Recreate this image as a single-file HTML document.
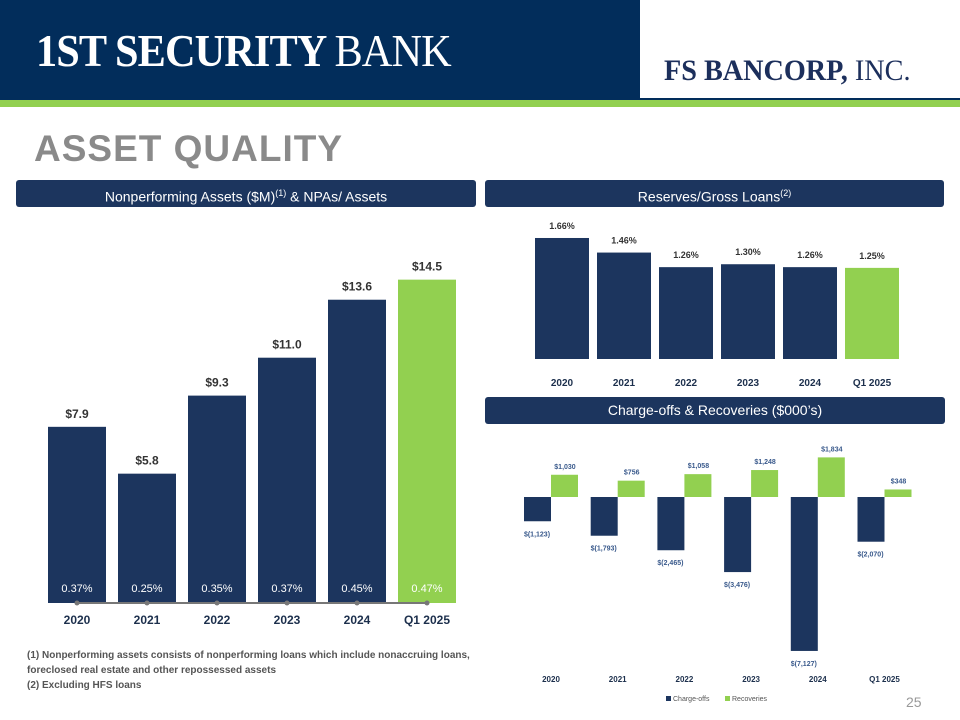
<!DOCTYPE html>
<html><head><meta charset="utf-8"><style>
body{margin:0;width:960px;height:720px;background:#fff;position:relative;overflow:hidden;font-family:"Liberation Sans",sans-serif}
.abs{position:absolute}
.hdr{position:absolute;background:#1c355e;color:#fff;border-radius:3px;font-size:14px;text-align:center;line-height:27px;height:27px}
</style></head><body>
<div class="abs" style="left:0;top:0;width:960px;height:100px;background:#022d5b"></div>
<div class="abs" style="left:36px;top:24px;color:#fff;font-family:'Liberation Serif',serif;font-size:46px;font-weight:bold;letter-spacing:-1px;transform:scaleX(0.92);transform-origin:left">1ST SECURITY <span style="font-weight:normal">BANK</span></div>
<div class="abs" style="left:640px;top:0;width:320px;height:98px;background:#fff"></div>
<div class="abs" style="left:664px;top:54px;color:#1c2f5c;font-family:'Liberation Serif',serif;font-size:30px;font-weight:bold;transform:scaleX(0.94);transform-origin:left">FS BANCORP, <span style="font-weight:normal">INC.</span></div>
<div class="abs" style="left:0;top:100px;width:960px;height:7px;background:#92d050"></div>
<div class="abs" style="left:34px;top:128px;color:#8a8a8a;font-size:37px;font-weight:bold;letter-spacing:1px">ASSET QUALITY</div>
<div class="hdr" style="left:16px;top:180px;width:460px">Nonperforming Assets ($M)<sup style="font-size:9px">(1)</sup> &amp; NPAs/ Assets</div>
<div class="hdr" style="left:485px;top:180px;width:459px">Reserves/Gross Loans<sup style="font-size:9px">(2)</sup></div>
<div class="hdr" style="left:485px;top:397px;width:460px">Charge-offs &amp; Recoveries ($000’s)</div>
<div class="abs" style="left:27px;top:648px;font-size:10px;font-weight:bold;color:#555;line-height:15px;width:460px">(1) Nonperforming assets consists of nonperforming loans which include nonaccruing loans, foreclosed real estate and other repossessed assets<br>(2) Excluding HFS loans</div>
<div class="abs" style="left:906px;top:694px;font-size:14px;color:#999">25</div>
<svg class="abs" style="left:0;top:0" width="960" height="720" id="svg"></svg>
<script>
const cats=["2020","2021","2022","2023","2024","Q1 2025"];
const npaVals=[7.9,5.8,9.3,11.0,13.6,14.5];
const npaPct=["0.37%","0.25%","0.35%","0.37%","0.45%","0.47%"];
const resVals=[1.66,1.46,1.26,1.30,1.26,1.25];
const chargeOffs=[-1123,-1793,-2465,-3476,-7127,-2070];
const recoveries=[1030,756,1058,1248,1834,348];
const NAVY="#1c355e",GREEN="#92d050",NS="http://www.w3.org/2000/svg";
const svg=document.getElementById('svg');
function el(t,a,txt){const e=document.createElementNS(NS,t);for(const k in a)e.setAttribute(k,a[k]);if(txt!=null)e.textContent=txt;svg.appendChild(e);return e;}
function fmt(v){return Math.abs(v).toLocaleString('en-US');}
// chart 1
const y1=v=>603-v*22.3, x1=i=>48+i*70;
npaVals.forEach((v,i)=>{
 let r=el('rect',{x:x1(i),y:y1(v),width:58,height:603-y1(v),fill:i==5?GREEN:NAVY});
 
 let t=el('text',{x:x1(i)+29,y:y1(v)-9,'text-anchor':'middle','font-size':12,'font-weight':'bold',fill:'#333'},'$'+v.toFixed(1));
 
 let p=el('text',{x:x1(i)+29,y:592,'text-anchor':'middle','font-size':11,fill:'#fff'},npaPct[i]);
 
 let c=el('text',{x:x1(i)+29,y:624,'text-anchor':'middle','font-size':12,'font-weight':'bold',fill:'#1c2f4c'},cats[i]);
 
});
let ln=el('line',{x1:x1(0)+29,x2:x1(5)+29,y1:603,y2:603,stroke:'#777','stroke-width':2});

npaVals.forEach((v,i)=>{let d=el('circle',{cx:x1(i)+29,cy:603,r:2.5,fill:'#777'});});
// chart 2
const y2=v=>359-v*72.9, x2=i=>535+i*62;
resVals.forEach((v,i)=>{
 let r=el('rect',{x:x2(i),y:y2(v),width:54,height:359-y2(v),fill:i==5?GREEN:NAVY});
 
 let t=el('text',{x:x2(i)+27,y:y2(v)-9,'text-anchor':'middle','font-size':9,'font-weight':'bold',fill:'#333'},v.toFixed(2)+'%');
 
 let c=el('text',{x:x2(i)+27,y:386,'text-anchor':'middle','font-size':10,'font-weight':'bold',fill:'#1c2f4c'},cats[i]);
 
});
// chart 3
const y3=v=>497-v*0.0216, x3=i=>524+i*66.7;
cats.forEach((c,i)=>{
 const co=chargeOffs[i],rc=recoveries[i];
 let a=el('rect',{x:x3(i),y:497,width:27,height:y3(co)-497,fill:NAVY});
 
 let b=el('rect',{x:x3(i)+27,y:y3(rc),width:27,height:497-y3(rc),fill:GREEN});
 
 let t1=el('text',{x:x3(i)+13,y:y3(co)+15,'text-anchor':'middle','font-size':7,'font-weight':'bold',fill:'#3a5a8c'},'$('+fmt(co)+')');
 
 let t2=el('text',{x:x3(i)+41,y:y3(rc)-6,'text-anchor':'middle','font-size':7,'font-weight':'bold',fill:'#3a5a8c'},'$'+fmt(rc));
 
 let cl=el('text',{x:x3(i)+27,y:682,'text-anchor':'middle','font-size':8,'font-weight':'bold',fill:'#1c2f4c'},c);
 
});
let l1=el('rect',{x:666,y:696,width:5,height:5,fill:NAVY});
let l2=el('text',{x:673,y:701,'font-size':7,fill:'#555'},'Charge-offs');
let l3=el('rect',{x:725,y:696,width:5,height:5,fill:GREEN});
let l4=el('text',{x:732,y:701,'font-size':7,fill:'#555'},'Recoveries');
</script>
</body></html>
